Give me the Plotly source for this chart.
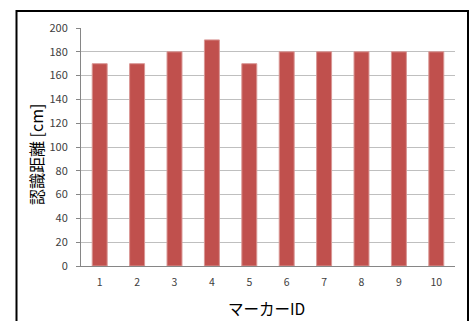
import plotly.graph_objects as go

marker_ids = ["1", "2", "3", "4", "5", "6", "7", "8", "9", "10"]
distances = [170, 170, 180, 190, 170, 180, 180, 180, 180, 180]
y_ticks = [0, 20, 40, 60, 80, 100, 120, 140, 160, 180, 200]

L, R, T, B = 81, 17, 28, 55
W, H = 472, 321
pw, ph = W - L - R, H - T - B

fig = go.Figure(go.Bar(
    x=marker_ids, y=distances,
    marker=dict(color="#c0504d", line=dict(color="#d99694", width=1)),
))

fig.update_layout(
    width=W, height=H,
    margin=dict(l=L, r=R, t=T, b=B, autoexpand=False),
    paper_bgcolor="white", plot_bgcolor="white",
    bargap=0.6,
    showlegend=False,
    font=dict(family="Noto Sans CJK JP, sans-serif", color="#404040"),
    xaxis=dict(
        type="category", automargin=False,
        tickfont=dict(size=10.5),
        showline=True, linecolor="#868686", linewidth=1,
        ticks="", showgrid=False,
        ticklabelstandoff=6,
    ),
    yaxis=dict(
        range=[0, 200], automargin=False,
        tickvals=y_ticks,
        tickfont=dict(size=11),
        showline=True, linecolor="#868686", linewidth=1,
        ticks="outside", ticklen=4, tickcolor="#868686",
        showgrid=True, gridcolor="#bfbfbf", gridwidth=1,
        zeroline=False,
        ticklabelstandoff=6,
    ),
)

def px_x(p):
    return (p - L) / pw

def px_y(p):
    return (H - B - p) / ph

fig.add_annotation(text="マーカーID", xref="paper", yref="paper",
                   x=px_x(266), y=px_y(308), xanchor="center", yanchor="middle",
                   showarrow=False, font=dict(size=15.5, color="#000000"))
fig.add_annotation(text="認識距離 [cm]", xref="paper", yref="paper",
                   x=px_x(36), y=px_y(155), xanchor="center", yanchor="middle",
                   showarrow=False, textangle=-90,
                   font=dict(size=16, color="#000000"))

fig.add_shape(type="rect", xref="paper", yref="paper",
              x0=px_x(16.5), x1=px_x(468), y0=px_y(340), y1=px_y(11),
              line=dict(color="black", width=2), layer="above")

fig.write_html("out.html", config={"displayModeBar": False},
               post_script="document.body.style.margin='0';document.body.style.overflow='hidden';")
